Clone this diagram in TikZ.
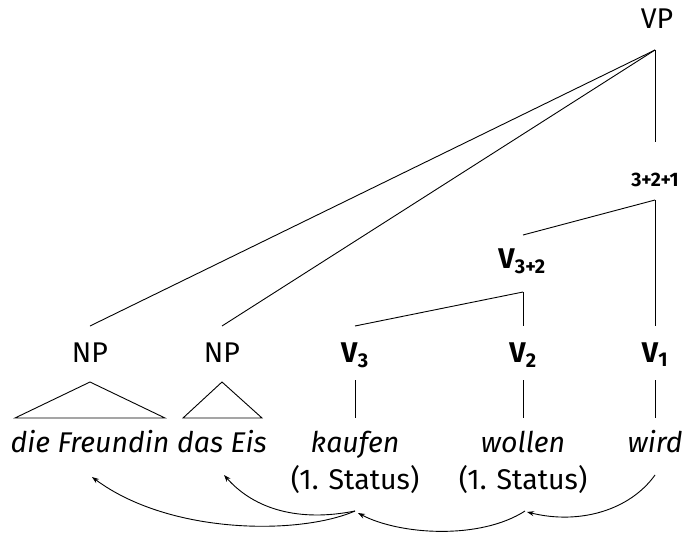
\documentclass[tikz,border=0pt]{standalone}
\usepackage{fontspec}
\setmainfont{Fira Sans}
\usetikzlibrary{arrows.meta}
\begin{document}
\begin{tikzpicture}[x=1pt,y=-1pt,
  lbl/.style={inner sep=0pt, anchor=base, font=\fontsize{28.5}{34}\selectfont},
  wrd/.style={inner sep=0pt, anchor=base, font=\fontsize{28.5}{34}\selectfont\itshape},
  edge/.style={line width=0.9pt},
  mv/.style={line width=0.9pt, -{Stealth[length=7pt,width=5pt]}}]
\useasboundingbox (0,0) rectangle (685,535);
% labels
\node[lbl] (VP) at (657,29) {VP};
\node[lbl, font=\fontsize{19.5}{23}\selectfont\bfseries] (T) at (655,186) {3+2+1};
\node[lbl] (V32) at (522,268) {\textbf{V}\textsubscript{\textbf{3+2}}};
\node[lbl] (NPa) at (90,362) {NP};
\node[lbl] (NPb) at (222,362) {NP};
\node[lbl] (V3) at (355,362) {\textbf{V}\textsubscript{\textbf{3}}};
\node[lbl] (V2) at (523,362) {\textbf{V}\textsubscript{\textbf{2}}};
\node[lbl] (V1) at (655,362) {\textbf{V}\textsubscript{\textbf{1}}};
% words
\node[wrd] (wa) at (90,452) {die Freundin};
\node[wrd] (wb) at (222,452) {das Eis};
\node[wrd] (wc) at (355,452) {kaufen};
\node[lbl] (sc) at (355,489) {(1. Status)};
\node[wrd] (wd) at (523,452) {wollen};
\node[lbl] (sd) at (523,489) {(1. Status)};
\node[wrd] (we) at (655,452) {wird};
% tree coordinates
\coordinate (VPb) at (655,50);
\coordinate (Tt) at (655,142);
\coordinate (Tb) at (655,200);
\coordinate (V32t) at (523,235);
\coordinate (V32b) at (523,292);
\coordinate (NPat) at (90,326);
\coordinate (NPbt) at (222,326);
\coordinate (V3t) at (355,326);
\coordinate (V2t) at (523,326);
\coordinate (V1t) at (655,326);
\coordinate (V3b) at (355,380);
\coordinate (V2b) at (523,380);
\coordinate (V1b) at (655,380);
\coordinate (wcT) at (355,418);
\coordinate (wdT) at (523,418);
\coordinate (weT) at (655,418);
% edges
\draw[edge] (VPb) -- (NPat);
\draw[edge] (VPb) -- (NPbt);
\draw[edge] (VPb) -- (Tt);
\draw[edge] (Tb) -- (V32t);
\draw[edge] (Tb) -- (V1t);
\draw[edge] (V32b) -- (V3t);
\draw[edge] (V32b) -- (V2t);
\draw[edge] (V3b) -- (wcT);
\draw[edge] (V2b) -- (wdT);
\draw[edge] (V1b) -- (weT);
% triangles
\draw[edge] (90,382) -- (15,418) -- (165,418) -- cycle;
\draw[edge] (222,382) -- (183,418) -- (262,418) -- cycle;
% movement arrows
\coordinate (kS) at (355,511);
\coordinate (wS) at (525,511);
\coordinate (kE) at (358,513);
\coordinate (wE) at (527,512);
\coordinate (dF) at (92,477);
\coordinate (dE) at (224,475);
\coordinate (wiS) at (655,475);
\draw[mv] (kS) .. controls (300,535) and (170,535) .. (dF);
\draw[mv] (kS) .. controls (300,522) and (255,510) .. (dE);
\draw[mv] (wS) .. controls (480,540) and (400,535) .. (kE);
\draw[mv] (wiS) .. controls (630,510) and (580,525) .. (wE);
\end{tikzpicture}
\end{document}
